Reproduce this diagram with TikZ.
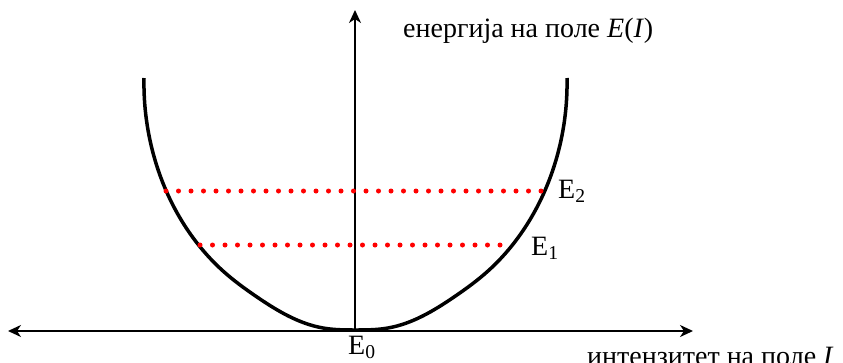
\documentclass[tikz,border=0pt]{standalone}
\usepackage{fontspec}
\setmainfont{Liberation Serif}
\usetikzlibrary{arrows.meta,hobby}
\begin{document}
\begin{tikzpicture}[x=1pt,y=-1pt,
  axis/.style={line width=2pt,{Stealth[length=13pt,width=12pt,inset=4pt]}-{Stealth[length=13pt,width=12pt,inset=4pt]}},
  vaxis/.style={line width=2pt,-{Stealth[length=13pt,width=12pt,inset=4pt]}},
  curve/.style={line width=3.5pt},
  level/.style={red,line width=5pt,line cap=round,dash pattern=on 0pt off 12.5pt},
  lbl/.style={font=\fontsize{28}{33}\selectfont,inner sep=0pt}]
\path[use as bounding box] (0,0) rectangle (843,362);
\clip (0,0) rectangle (843,362);
\coordinate (xl) at (8,331);
\coordinate (xr) at (693,331);
\coordinate (o) at (355,331);
\coordinate (yt) at (355,10);
\draw[curve,use Hobby shortcut] (144,78) .. (155,160) .. (197,243) .. (223,271) .. (257,297) .. (323,328) .. (355.5,330) .. (388,328) .. (454,297) .. (488,271) .. (514,243) .. (556,160) .. (567,78);
\draw[axis] (xl) -- (xr);
\draw[vaxis] (o) -- (yt);
\coordinate (a2) at (166,191);
\coordinate (b2) at (543,191);
\coordinate (a1) at (200,245);
\coordinate (b1) at (512,245);
\draw[level] (a2) -- (b2);
\draw[level] (a1) -- (b1);
\node[lbl,anchor=base west] (ylab) at (403,37) {енергија на поле \textit{E}(\textit{I})};
\node[lbl,anchor=base west] (e2) at (558,198) {E\textsubscript{2}};
\node[lbl,anchor=base west] (e1) at (531,255) {E\textsubscript{1}};
\node[lbl,anchor=base west] (e0) at (348,354) {E\textsubscript{0}};
\node[lbl,anchor=base west] (xlab) at (587,365) {интензитет на поле \textit{I}};
\end{tikzpicture}
\end{document}
